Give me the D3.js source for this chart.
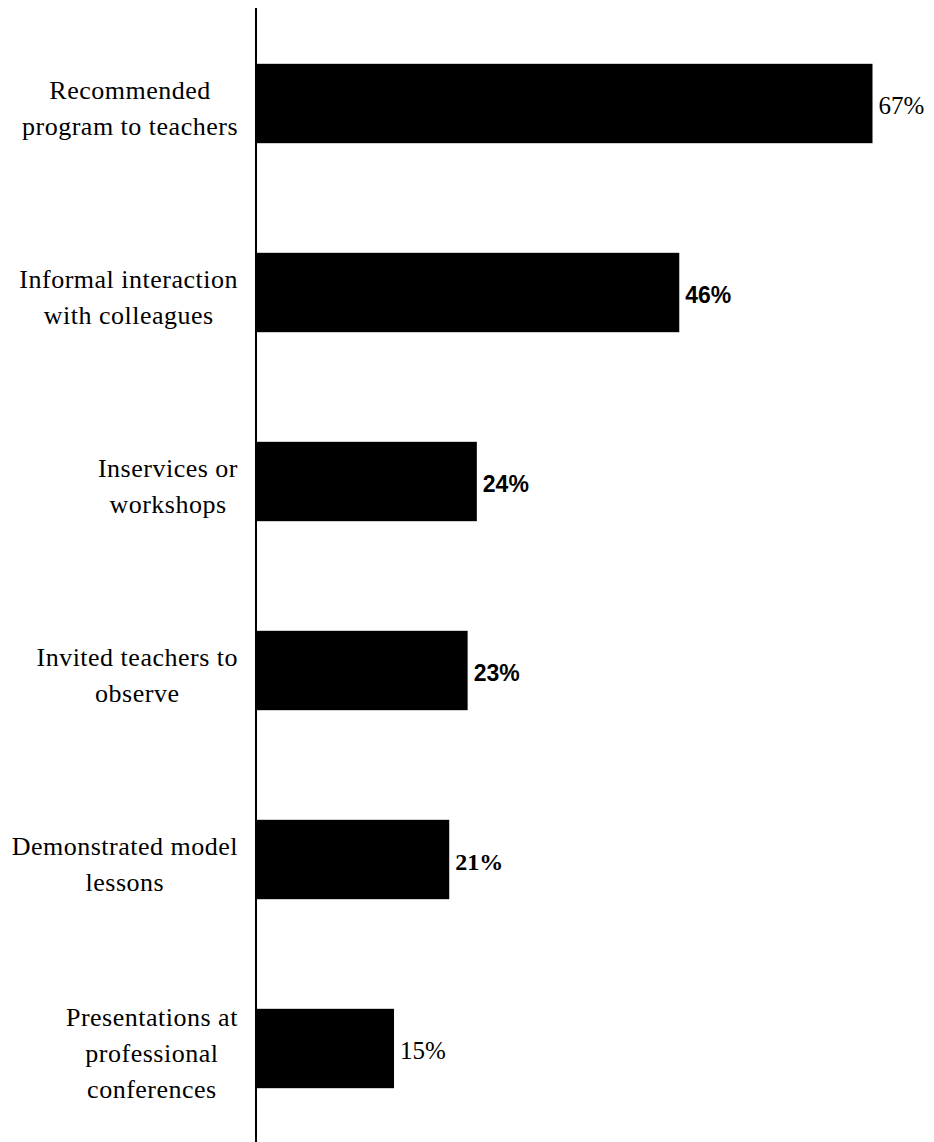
<!DOCTYPE html>
<html>
<head>
<meta charset="utf-8">
<script src="https://cdn.jsdelivr.net/npm/d3@7"></script>
<style>
  html, body { margin: 0; padding: 0; background: #fff; }
  svg { display: block; }
</style>
</head>
<body>
<div id="chart"></div>
<script>
// ---- data ----
const categories = [
  ["Recommended", "program to teachers"],
  ["Informal interaction", "with colleagues"],
  ["Inservices or", "workshops"],
  ["Invited teachers to", "observe"],
  ["Demonstrated model", "lessons"],
  ["Presentations at", "professional", "conferences"]
];
const values = [67, 46, 24, 23, 21, 15];
const valueLabels = ["67%", "46%", "24%", "23%", "21%", "15%"];

// ---- styles (kept separate from data) ----
const W = 934, H = 1142;
const axisX = 256;
const serif = "'Liberation Serif', 'Times New Roman', serif";
const sans = "'Liberation Sans', Arial, sans-serif";
const valueFontStyles = [
  { family: serif, weight: 400, size: 25 },
  { family: sans, weight: 700, size: 23 },
  { family: sans, weight: 700, size: 23 },
  { family: sans, weight: 700, size: 23 },
  { family: serif, weight: 700, size: 24 },
  { family: serif, weight: 400, size: 25 }
];

const svg = d3.select("#chart").append("svg")
  .attr("width", W).attr("height", H);

const y = d3.scaleBand()
  .domain(d3.range(categories.length))
  .range([9, 1143])
  .paddingInner(0.58)
  .paddingOuter(0.29);

const x = d3.scaleLinear()
  .domain([0, 67])
  .range([axisX, 872.5]);

// bars
svg.append("g").selectAll("rect")
  .data(values)
  .join("rect")
  .attr("x", x(0))
  .attr("y", (d, i) => y(i))
  .attr("width", d => x(d) - x(0))
  .attr("height", y.bandwidth())
  .attr("fill", "#000");

// axis line (category axis, no ticks)
const yAxis = d3.axisLeft(y).tickSize(0).tickFormat("");
const gAxis = svg.append("g")
  .attr("transform", `translate(${axisX},0)`)
  .call(yAxis);
gAxis.select(".domain")
  .attr("d", `M0,8V${H}`)
  .attr("stroke", "#000")
  .attr("stroke-width", 2);

// category labels: centered multi-line blocks, right-aligned to axis
const labelRight = axisX - 18;
const lineH = 36;
const labelG = svg.append("g")
  .attr("font-family", serif)
  .attr("font-size", 26)
  .attr("letter-spacing", 0.5)
  .attr("fill", "#000");

categories.forEach((lines, i) => {
  const cy = y(i) + y.bandwidth() / 2;
  const t = labelG.append("text").attr("text-anchor", "middle");
  const meanBase = cy + 13;
  const first = meanBase - (lines.length - 1) * lineH / 2;
  lines.forEach((ln, j) => {
    t.append("tspan").attr("x", 0).attr("y", first + j * lineH).text(ln);
  });
  const bb = t.node().getBBox();
  t.attr("transform", `translate(${labelRight - bb.width / 2},0)`);
});

// value labels
svg.append("g").selectAll("text")
  .data(values)
  .join("text")
  .attr("x", d => x(d) + 6)
  .attr("y", (d, i) => y(i) + y.bandwidth() / 2 + 10)
  .attr("font-family", (d, i) => valueFontStyles[i].family)
  .attr("font-weight", (d, i) => valueFontStyles[i].weight)
  .attr("font-size", (d, i) => valueFontStyles[i].size)
  .attr("fill", "#000")
  .text((d, i) => valueLabels[i]);
</script>
</body>
</html>
